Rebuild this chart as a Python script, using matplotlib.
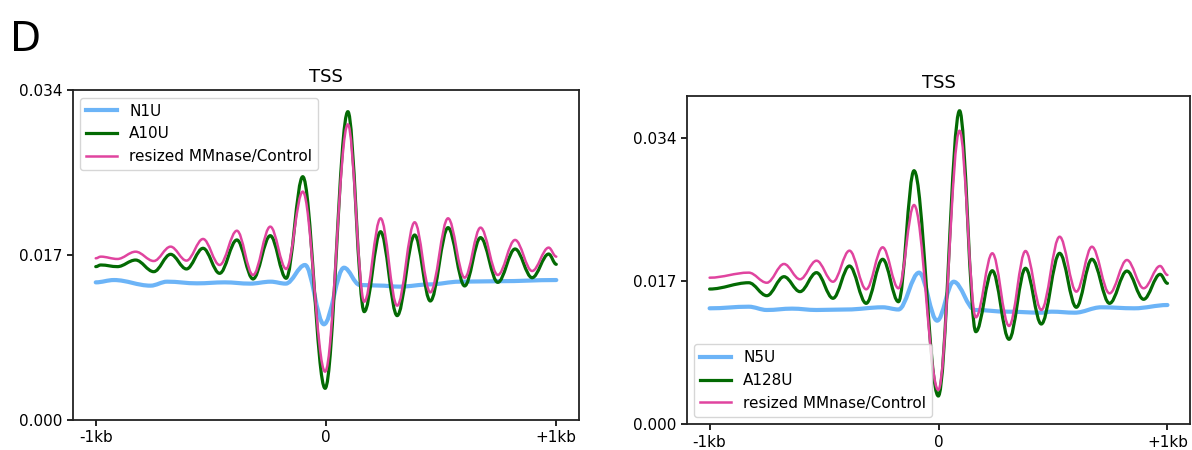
import matplotlib
matplotlib.use("Agg")
import matplotlib.pyplot as plt
from matplotlib.path import Path
from matplotlib.patches import PathPatch
from matplotlib.lines import Line2D

# ---- left panel (turning points of each profile, bp from TSS) ----
left_x = [-1000, -978, -906, -827, -748, -675, -606, -534, -462, -387, -317, -242, -173,
          -101, -4, 95, 166, 237, 309, 385, 453, 530, 602, 671, 746, 821, 895, 967, 1000]
left_pink = [0.01666, 0.01683, 0.01659, 0.01734, 0.01638, 0.01786, 0.01642, 0.01865, 0.01597,
             0.01950, 0.01494, 0.01992, 0.01556, 0.02353, 0.00498, 0.03046, 0.01219, 0.02078,
             0.01178, 0.02037, 0.01315, 0.02078, 0.01466, 0.01982, 0.01494, 0.01855, 0.01535,
             0.01776, 0.01683]
left_green = [0.01580, 0.01597, 0.01580, 0.01648, 0.01528, 0.01707, 0.01556, 0.01769, 0.01511,
              0.01855, 0.01453, 0.01899, 0.01460, 0.02507, 0.00326, 0.03177, 0.01116, 0.01940,
              0.01075, 0.01906, 0.01226, 0.01982, 0.01381, 0.01879, 0.01418, 0.01762, 0.01466,
              0.01710, 0.01604]
left_blue_x = [-1000, -921, -762, -690, -560, -440, -330, -240, -175, -91, -9, 78, 147, 230,
               320, 450, 580, 753, 1000]
left_blue = [0.01418, 0.01442, 0.01384, 0.01425, 0.01408, 0.01418, 0.01405, 0.01425, 0.01405,
             0.01597, 0.00986, 0.01569, 0.01391, 0.01385, 0.01374, 0.01397, 0.01425, 0.01430,
             0.01442]
left_labels = ["N1U", "A10U", "resized MMnase/Control"]

# ---- right panel ----
right_x = [-1000, -829, -750, -675, -605, -533, -461, -389, -316, -244, -175, -107, -1, 92,
           163, 235, 308, 380, 449, 529, 602, 670, 747, 823, 896, 968, 1000]
right_pink = [0.01743, 0.01803, 0.01683, 0.01906, 0.01724, 0.01945, 0.01695, 0.02064, 0.01605,
              0.02104, 0.01617, 0.02607, 0.00408, 0.03490, 0.01272, 0.02033, 0.01169, 0.02060,
              0.01359, 0.02230, 0.01577, 0.02111, 0.01557, 0.01953, 0.01617, 0.01882, 0.01775]
right_green = [0.01608, 0.01683, 0.01529, 0.01755, 0.01577, 0.01803, 0.01498, 0.01882, 0.01438,
               0.01962, 0.01457, 0.03015, 0.00336, 0.03728, 0.01101, 0.01826, 0.01010, 0.01855,
               0.01192, 0.02033, 0.01391, 0.01962, 0.01438, 0.01822, 0.01486, 0.01783, 0.01676]
right_blue_x = [-1000, -829, -750, -640, -533, -400, -244, -175, -85, -6, 66, 160, 300, 449,
                494, 595, 711, 855, 1000]
right_blue = [0.01379, 0.01398, 0.01359, 0.01375, 0.01359, 0.01365, 0.01391, 0.01365, 0.01803,
              0.01232, 0.01695, 0.01359, 0.01339, 0.01327, 0.01339, 0.01327, 0.01391, 0.01379,
              0.01418]
right_labels = ["N5U", "A128U", "resized MMnase/Control"]

x_ticks = [-1000, 0, 1000]
x_ticklabels = ["-1kb", "0", "+1kb"]

BLUE = "#6cb4f7"
GREEN = "#036a03"
PINK = "#e0449f"


def smooth_path(xs, ys, k=0.36):
    # bezier segments with flat tangents at each turning point
    verts = [(xs[0], ys[0])]
    codes = [Path.MOVETO]
    for i in range(1, len(xs)):
        dx = xs[i] - xs[i - 1]
        verts += [(xs[i - 1] + k * dx, ys[i - 1]), (xs[i] - k * dx, ys[i]), (xs[i], ys[i])]
        codes += [Path.CURVE4] * 3
    return Path(verts, codes)


def draw_panel(ax, bx, by, x, green, pink, labels, ymax, yticks, loc):
    styles = [(bx, by, BLUE, 3.0), (x, green, GREEN, 2.3), (x, pink, PINK, 1.8)]
    for xs, ys, c, lw in styles:
        ax.add_patch(PathPatch(smooth_path(xs, ys), fill=False, edgecolor=c, lw=lw,
                               capstyle="round", joinstyle="round"))
    handles = [Line2D([], [], color=c, lw=lw) for _, _, c, lw in styles]
    ax.legend(handles, labels, loc=loc, fontsize=11)
    ax.set_xlim(-1100, 1100)
    ax.set_ylim(0, ymax)
    ax.set_xticks(x_ticks)
    ax.set_xticklabels(x_ticklabels)
    ax.set_yticks(yticks)
    ax.set_yticklabels(["%.3f" % t for t in yticks])
    ax.tick_params(labelsize=11, width=1.2, length=4)
    for s in ax.spines.values():
        s.set_linewidth(1.3)
        s.set_color("#222222")
    ax.set_title("TSS", fontsize=13)


fig = plt.figure(figsize=(11.92, 4.5), dpi=100)
ax1 = fig.add_axes([0.061, 0.0667, 0.425, 0.7333])
ax2 = fig.add_axes([0.5761, 0.0571, 0.4225, 0.7296])

draw_panel(ax1, left_blue_x, left_blue, left_x, left_green, left_pink, left_labels,
           0.034, [0.0, 0.017, 0.034], "upper left")
draw_panel(ax2, right_blue_x, right_blue, right_x, right_green, right_pink, right_labels,
           0.03903, [0.0, 0.017, 0.034], "lower left")

fig.text(0.008, 0.955, "D", fontsize=29, va="top", ha="left")

fig.savefig("out.png", dpi=100)
